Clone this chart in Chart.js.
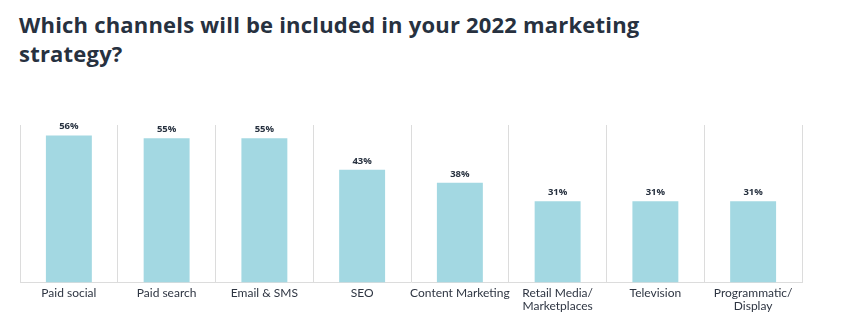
<!DOCTYPE html>
<html>
<head>
<meta charset="utf-8">
<script src="https://cdn.jsdelivr.net/npm/chart.js@4"></script>
<style>
  html, body { margin: 0; padding: 0; background: #ffffff; }
  body { width: 856px; height: 333px; position: relative; overflow: hidden; }
  #title {
    position: absolute; left: 19px; top: 10px; margin: 0;
    font-family: "Open Sans", Lato, sans-serif; font-weight: 700;
    font-size: 22px; line-height: 29px; color: #27313f; letter-spacing: 0.2px;
  }
  #wrap { position: absolute; left: 0; top: 0; width: 856px; height: 333px; }
</style>
</head>
<body>
<h1 id="title">Which channels will be included in your 2022 marketing<br>strategy?</h1>
<div id="wrap"><canvas id="c" width="856" height="333"></canvas></div>
<script>
const categories = [
  "Paid social",
  "Paid search",
  "Email & SMS",
  "SEO",
  "Content Marketing",
  ["Retail Media/", "Marketplaces"],
  "Television",
  ["Programmatic/", "Display"]
];
const values = [56, 55, 55, 43, 38, 31, 31, 31];
const valueLabels = ["56%", "55%", "55%", "43%", "38%", "31%", "31%", "31%"];

const barLabelPlugin = {
  id: 'barLabels',
  afterDatasetsDraw(chart) {
    const ctx = chart.ctx;
    const meta = chart.getDatasetMeta(0);
    ctx.save();
    ctx.font = 'bold 9.5px "Open Sans", Lato, sans-serif';
    ctx.fillStyle = '#27313f';
    ctx.textAlign = 'center';
    ctx.textBaseline = 'bottom';
    meta.data.forEach((bar, i) => {
      ctx.fillText(valueLabels[i], bar.x, bar.y - 4);
    });
    ctx.restore();
  }
};

new Chart(document.getElementById('c'), {
  type: 'bar',
  data: {
    labels: categories,
    datasets: [{
      data: values,
      backgroundColor: '#a3d8e2',
      borderWidth: 0,
      categoryPercentage: 1.0,
      barPercentage: 0.47
    }]
  },
  options: {
    responsive: false,
    animation: false,
    layout: { padding: { left: 20, right: 54, top: 125, bottom: 16 } },
    plugins: { legend: { display: false }, tooltip: { enabled: false }, title: { display: false } },
    scales: {
      x: {
        offset: true,
        grid: { display: true, offset: true, color: '#dcdcdc', lineWidth: 1, drawTicks: false },
        border: { display: true, color: '#dcdcdc', width: 1 },
        ticks: {
          color: '#2e3542',
          font: { family: 'Lato, "Noto Sans", sans-serif', size: 12, lineHeight: 1.1 },
          padding: 4,
          maxRotation: 0,
          autoSkip: false
        }
      },
      y: {
        display: false,
        min: 0,
        max: 60
      }
    }
  },
  plugins: [barLabelPlugin]
});
</script>
</body>
</html>
